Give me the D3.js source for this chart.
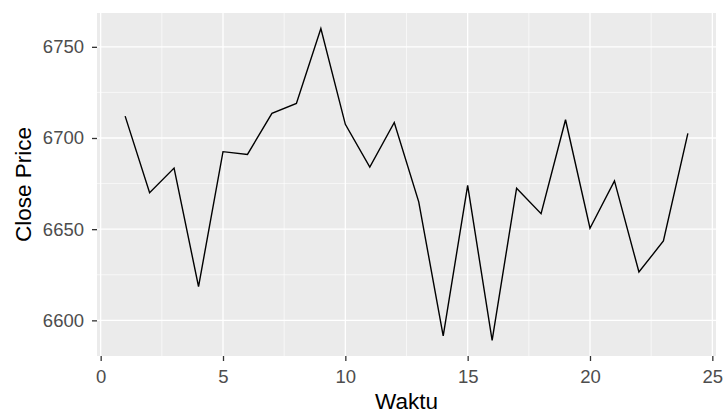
<!DOCTYPE html>
<html>
<head>
<meta charset="utf-8">
<script src="https://cdn.jsdelivr.net/npm/d3@7"></script>
<style>
  body { margin: 0; background: #fff; }
  text { font-family: "Liberation Sans", Arial, sans-serif; }
</style>
</head>
<body>
<div id="chart"></div>
<script>
// data
const waktu = [1, 2, 3, 4, 5, 6, 7, 8, 9, 10, 11, 12, 13, 14, 15, 16, 17, 18, 19, 20, 21, 22, 23, 24]
const closePrice = [6712, 6670, 6683.5, 6618.5, 6692.5, 6691, 6713.5, 6719, 6760, 6707.5, 6684, 6708.5,
                    6665, 6591.5, 6674, 6589, 6672.5, 6658.5, 6710, 6650.5, 6676.5, 6626.5, 6643.5, 6702.5]
const xTicks = [0, 5, 10, 15, 20, 25]
const xMinor = [2.5, 7.5, 12.5, 17.5, 22.5]
const yTicks = [6600, 6650, 6700, 6750]
const yMinor = [6625, 6675, 6725]

const width = 726, height = 414
const margin = { left: 97, right: 10, top: 13, bottom: 58 }
const w = width - margin.left - margin.right
const h = height - margin.top - margin.bottom

const data = waktu.map((d, i) => ({ x: d, y: closePrice[i] }))

var svg = d3.select("#chart")
    .append("svg")
    .attr("width", width)
    .attr("height", height)

var view = svg.append("g")
    .attr("transform", "translate(" + margin.left + "," + margin.top + ")")

// ggplot style 5% expansion
const xr = d3.extent(waktu), yr = d3.extent(closePrice)
const xpad = (xr[1] - xr[0]) * 0.05, ypad = (yr[1] - yr[0]) * 0.05

var x = d3.scaleLinear().domain([xr[0] - xpad, xr[1] + xpad]).range([0, w])
var y = d3.scaleLinear().domain([yr[0] - ypad, yr[1] + ypad]).range([h, 0])

// panel
view.append("rect")
    .attr("width", w)
    .attr("height", h)
    .attr("fill", "#EBEBEB")

// minor grid
view.selectAll(".xminor").data(xMinor).enter().append("line")
    .attr("x1", d => x(d)).attr("x2", d => x(d))
    .attr("y1", 0).attr("y2", h)
    .attr("stroke", "#fff").attr("stroke-width", 0.6)
view.selectAll(".yminor").data(yMinor).enter().append("line")
    .attr("y1", d => y(d)).attr("y2", d => y(d))
    .attr("x1", 0).attr("x2", w)
    .attr("stroke", "#fff").attr("stroke-width", 0.6)

// major grid
view.selectAll(".xmajor").data(xTicks).enter().append("line")
    .attr("x1", d => x(d)).attr("x2", d => x(d))
    .attr("y1", 0).attr("y2", h)
    .attr("stroke", "#fff").attr("stroke-width", 1.3)
view.selectAll(".ymajor").data(yTicks).enter().append("line")
    .attr("y1", d => y(d)).attr("y2", d => y(d))
    .attr("x1", 0).attr("x2", w)
    .attr("stroke", "#fff").attr("stroke-width", 1.3)

// line
view.append("path")
    .datum(data)
    .attr("fill", "none")
    .attr("stroke", "#000")
    .attr("stroke-width", 1.4)
    .attr("d", d3.line().x(d => x(d.x)).y(d => y(d.y)))

// axes
var xAxis = view.append("g")
    .attr("transform", "translate(0," + h + ")")
    .call(d3.axisBottom(x).tickValues(xTicks).tickSize(5).tickPadding(9))
var yAxis = view.append("g")
    .call(d3.axisLeft(y).tickValues(yTicks).tickFormat(d3.format("d")).tickSize(5).tickPadding(8))

for (const ax of [xAxis, yAxis]) {
    ax.select(".domain").remove()
    ax.selectAll(".tick line").attr("stroke", "#333").attr("stroke-width", 1.3)
    ax.selectAll(".tick text")
        .attr("fill", "#4D4D4D")
        .style("font-size", "18.5px")
        .style("font-family", "'Liberation Sans', Arial, sans-serif")
}

// titles
svg.append("text")
    .attr("x", margin.left + w / 2)
    .attr("y", 409)
    .attr("text-anchor", "middle")
    .attr("fill", "#000")
    .style("font-size", "22.5px")
    .text("Waktu")

svg.append("text")
    .attr("transform", "rotate(-90)")
    .attr("x", -(margin.top + h / 2))
    .attr("y", 31)
    .attr("text-anchor", "middle")
    .attr("fill", "#000")
    .style("font-size", "22.5px")
    .text("Close Price")
</script>
</body>
</html>
